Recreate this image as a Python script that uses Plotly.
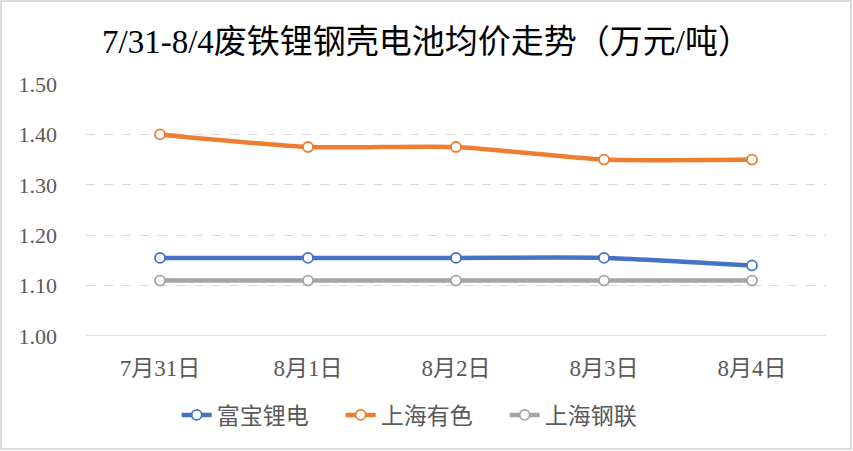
import plotly.graph_objects as go

categories = ["7月31日", "8月1日", "8月2日", "8月3日", "8月4日"]
fubao = [1.155, 1.155, 1.155, 1.155, 1.14]
shanghai_youse = [1.40, 1.375, 1.375, 1.35, 1.35]
shanghai_ganglian = [1.11, 1.11, 1.11, 1.11, 1.11]
series_names = ["富宝锂电", "上海有色", "上海钢联"]
colors = ["#4472C4", "#ED7D31", "#A5A5A5"]
y_ticks = [1.00, 1.10, 1.20, 1.30, 1.40, 1.50]

W, H = 853, 451
ml, mr, mt, mb = 86, 27, 84, 115
pw, ph = W - ml - mr, H - mt - mb

fig = go.Figure()
for name, vals, c in zip(series_names, [fubao, shanghai_youse, shanghai_ganglian], colors):
    fig.add_trace(go.Scatter(
        x=categories, y=vals, name=name, mode="lines+markers",
        line=dict(color=c, width=4.5, shape="spline", smoothing=0.6),
        marker=dict(symbol="circle", size=10, color="white", line=dict(color=c, width=1.8)),
    ))

font_serif = "Liberation Serif, Noto Sans CJK SC, serif"

fig.update_layout(
    width=W, height=H,
    margin=dict(l=ml, r=mr, t=mt, b=mb),
    paper_bgcolor="white", plot_bgcolor="white",
    title=dict(text="7/31-8/4废铁锂钢壳电池均价走势（万元/吨）",
               x=0.5, xanchor="center", y=1 - 41 / H, yanchor="middle",
               font=dict(family=font_serif, size=33, color="black")),
    showlegend=True,
    legend=dict(orientation="h", x=0.455, xanchor="center", y=(336 - 415) / ph, yanchor="middle",
                font=dict(family=font_serif, size=23, color="#595959"),
                tracegroupgap=0, entrywidth=119, entrywidthmode="pixels",
                bgcolor="rgba(0,0,0,0)"),
    xaxis=dict(type="category", range=[-0.5, 4.5], showgrid=False, showline=False,
               ticks="", ticklabelstandoff=16,
               tickfont=dict(family=font_serif, size=23, color="#595959")),
    yaxis=dict(range=[1.0, 1.5], tickvals=y_ticks, ticktext=[f"{v:.2f}" for v in y_ticks],
               showgrid=True, gridcolor="#D9D9D9", griddash="dash", gridwidth=1.3,
               zeroline=False, showline=False, ticks="", ticklabelstandoff=28,
               tickfont=dict(family=font_serif, size=22, color="#595959")),
    shapes=[
        dict(type="line", xref="paper", yref="y", x0=0, x1=1, y0=1.0, y1=1.0,
             line=dict(color="#D9D9D9", width=1.5)),
        dict(type="rect", xref="paper", yref="paper",
             x0=(1 - ml) / pw, x1=(W - 2 - ml) / pw,
             y0=(mt + ph - (H - 2)) / ph, y1=(mt + ph - 1) / ph,
             line=dict(color="#D0D0D0", width=1.5), layer="below"),
    ],
)

fig.write_html("out.html", post_script="document.body.style.margin='0';",
               config={"displayModeBar": False})
